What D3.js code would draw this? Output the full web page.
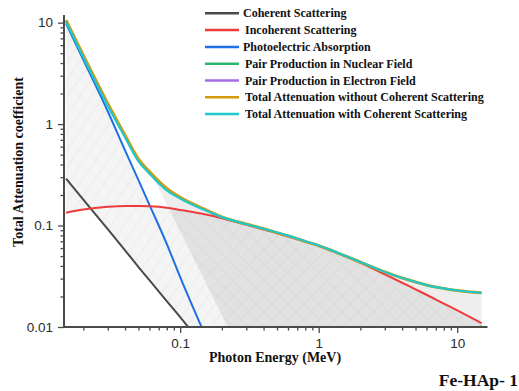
<!DOCTYPE html>
<html>
<head>
<meta charset="utf-8">
<script src="https://cdn.jsdelivr.net/npm/d3@7"></script>
<style>
  html, body { margin: 0; padding: 0; background: #fff; }
  svg { display: block; }
</style>
</head>
<body>
<svg id="chart" width="519" height="391"></svg>
<script>
// Photon energies (MeV)
const energy = [0.015, 0.02, 0.03, 0.04, 0.05, 0.06, 0.08, 0.1, 0.15, 0.2, 0.3, 0.4, 0.5, 0.6, 0.8,
                1, 1.25, 1.5, 2, 3, 4, 5, 6, 8, 10, 15];

// Partial and total attenuation coefficients (cm²/g) for Fe-HAp-1
const coherent = [0.29, 0.18, 0.092, 0.057, 0.039, 0.029, 0.018, 0.0125, 0.0062, 0.0037, 0.0018, 0.00105,
                  0.00068, 0.00048, 0.00027, 0.00017, 0.00011, 0.000077, 0.000044, 0.00002, 0.000011,
                  0.0000072, 0.000005, 0.0000028, 0.0000018, 0.0000008];
const incoherent = [0.134, 0.144, 0.153, 0.156, 0.156, 0.155, 0.150, 0.1425, 0.129, 0.118, 0.1015, 0.0915,
                    0.0841, 0.0781, 0.0693, 0.0628, 0.0562, 0.0508, 0.0428, 0.0330, 0.0273, 0.0235, 0.0208,
                    0.0170, 0.0146, 0.0109];
const photoelectric = [9.78, 4.3, 1.34, 0.55, 0.28, 0.16, 0.066, 0.031, 0.0085, 0.0033, 0.00092, 0.0004,
                       0.00021, 0.00013, 0.000066, 0.00004, 0.000027, 0.00002, 0.000013, 0.0000072,
                       0.0000049, 0.0000037, 0.000003, 0.0000021, 0.0000017, 0.0000011];
const pairNuclear = [null, null, null, null, null, null, null, null, null, null, null, null, null, null, null,
                     null, 0.00002, 0.00012, 0.0006, 0.0019, 0.0031, 0.0042, 0.0051, 0.0067, 0.0080, 0.0102];
const pairElectron = [null, null, null, null, null, null, null, null, null, null, null, null, null, null, null,
                      null, null, null, null, 0.00002, 0.00006, 0.00011, 0.00016, 0.00026, 0.00035, 0.00055];
const totalWithoutCoherent = [10.6, 4.75, 1.6, 0.775, 0.452, 0.34, 0.232, 0.19, 0.145, 0.122, 0.1035, 0.093,
                              0.0852, 0.0792, 0.0698, 0.0634, 0.0565, 0.0512, 0.0437, 0.0349, 0.0304, 0.0278,
                              0.0259, 0.0240, 0.0229, 0.0217];
const totalWithCoherent = [10.2, 4.55, 1.52, 0.74, 0.43, 0.325, 0.222, 0.185, 0.142, 0.121, 0.103, 0.093,
                           0.0855, 0.0795, 0.0700, 0.0636, 0.0566, 0.0513, 0.0437, 0.0349, 0.0304, 0.0278,
                           0.0259, 0.0240, 0.0229, 0.0217];

// Axis ticks
const xMajorTicks = [0.1, 1, 10];
const xTickLabels = ["0.1", "1", "10"];
const yMajorTicks = [0.01, 0.1, 1, 10];
const yTickLabels = ["0.01", "0.1", "1", "10"];

// Boundary between the light and dark shaded bands (energy, coefficient)
const shadeSplit = [[0.063, 0.31], [0.22, 0.01]];

const seriesNames = ["Coherent Scattering", "Incoherent Scattering", "Photoelectric Absorption",
                     "Pair Production in Nuclear Field", "Pair Production in Electron Field",
                     "Total Attenuation without Coherent Scattering", "Total Attenuation with Coherent Scattering"];
const seriesValues = [coherent, incoherent, photoelectric, pairNuclear, pairElectron,
                      totalWithoutCoherent, totalWithCoherent];
const seriesColors = ["#4a4a4a", "#ee3b3b", "#1f6fe5", "#2fb46a", "#a86be6", "#d39a0a", "#1fc8cc"];
const seriesWidths = [2, 2, 2, 2, 2, 3, 2.2];
const legendTextX = [243, 245, 243, 245, 245, 245, 245];

// ---------------------------------------------------------------
const svg = d3.select("#chart");
const plot = { left: 64, right: 487, top: 15, bottom: 327 };

const x = d3.scaleLog().domain([0.0145, 16.4]).range([plot.left, plot.right]);
const y = d3.scaleLog().domain([0.01, 11.9]).range([plot.bottom, plot.top]);

const pts = vals => energy.map((e, i) => ({ e, v: vals[i] }));

const defs = svg.append("defs");

defs.append("clipPath").attr("id", "plotClip")
  .append("rect").attr("x", plot.left).attr("y", plot.top)
  .attr("width", plot.right - plot.left).attr("height", plot.bottom - plot.top);

// Split line extended across the plot height
const s0 = [x(shadeSplit[0][0]), y(shadeSplit[0][1])];
const s1 = [x(shadeSplit[1][0]), y(shadeSplit[1][1])];
const slope = (s1[0] - s0[0]) / (s1[1] - s0[1]);
const xAt = yy => s0[0] + (yy - s0[1]) * slope;
const yT = 0, yB = 391;
defs.append("clipPath").attr("id", "leftOfSplit")
  .append("polygon").attr("points", [[0, yT], [xAt(yT), yT], [xAt(yB), yB], [0, yB]].join(" "));
defs.append("clipPath").attr("id", "rightOfSplit")
  .append("polygon").attr("points", [[xAt(yT), yT], [519, yT], [519, yB], [xAt(yB), yB]].join(" "));

// Hatch patterns
const hatchLight = defs.append("pattern").attr("id", "hatchLight")
  .attr("patternUnits", "userSpaceOnUse").attr("width", 10).attr("height", 10)
  .attr("patternTransform", "rotate(35)");
hatchLight.append("rect").attr("width", 10).attr("height", 10).attr("fill", "#f4f4f4");
hatchLight.append("line").attr("x1", 0).attr("y1", 0).attr("x2", 0).attr("y2", 10)
  .attr("stroke", "#e6e6e6").attr("stroke-width", 1.2);

const hatchDark = defs.append("pattern").attr("id", "hatchDark")
  .attr("patternUnits", "userSpaceOnUse").attr("width", 11).attr("height", 11)
  .attr("patternTransform", "rotate(45)");
hatchDark.append("rect").attr("width", 11).attr("height", 11).attr("fill", "#e2e2e2");
hatchDark.append("line").attr("x1", 0).attr("y1", 0).attr("x2", 0).attr("y2", 11)
  .attr("stroke", "#d5d5d5").attr("stroke-width", 1);
hatchDark.append("line").attr("x1", 0).attr("y1", 0).attr("x2", 11).attr("y2", 0)
  .attr("stroke", "#d5d5d5").attr("stroke-width", 1);

const curve = d3.curveMonotoneX;
const under = d3.area().defined(d => d.v != null)
  .x(d => x(d.e)).y0(yB).y1(d => y(d.v)).curve(curve);

// Clip regions used to build the light band: under coherent ∩ under incoherent is cut out
defs.append("clipPath").attr("id", "underIncoh")
  .append("path").attr("d", under(pts(incoherent)));

const mask = defs.append("mask").attr("id", "bandMask")
  .attr("maskUnits", "userSpaceOnUse").attr("x", 0).attr("y", 0).attr("width", 519).attr("height", 391);
mask.append("path").attr("d", under(pts(photoelectric))).attr("fill", "#fff");
mask.append("path").attr("d", under(pts(incoherent))).attr("fill", "#fff");
mask.append("g").attr("clip-path", "url(#underIncoh)")
  .append("path").attr("d", under(pts(coherent))).attr("fill", "#000");

const shade = svg.append("g").attr("clip-path", "url(#plotClip)");

// Light hatched band between the photoelectric / scattering curves
shade.append("g").attr("clip-path", "url(#leftOfSplit)")
  .append("rect").attr("x", plot.left).attr("y", plot.top)
  .attr("width", plot.right - plot.left).attr("height", plot.bottom - plot.top)
  .attr("fill", "url(#hatchLight)").attr("mask", "url(#bandMask)");

// Grey band between incoherent and total
const between = d3.area()
  .x(d => x(d.e)).y0(d => y(d.lo)).y1(d => y(d.hi)).curve(curve);
shade.append("g").attr("clip-path", "url(#rightOfSplit)")
  .append("path")
  .attr("d", between(energy.map((e, i) => ({ e, lo: incoherent[i], hi: totalWithCoherent[i] }))))
  .attr("fill", "#eeeeee");

// Dark cross-hatched region under the incoherent curve
shade.append("g").attr("clip-path", "url(#rightOfSplit)")
  .append("path")
  .attr("d", d3.area().x(d => x(d.e)).y0(plot.bottom).y1(d => y(d.v)).curve(curve)(pts(incoherent)))
  .attr("fill", "url(#hatchDark)");

// Curves
const line = d3.line().defined(d => d.v != null)
  .x(d => x(d.e)).y(d => y(d.v)).curve(curve);
const lines = svg.append("g").attr("clip-path", "url(#plotClip)");
const drawOrder = [3, 4, 0, 2, 1, 5, 6];
drawOrder.forEach(k => {
  lines.append("path")
    .attr("d", line(pts(seriesValues[k])))
    .attr("fill", "none")
    .attr("stroke", seriesColors[k])
    .attr("stroke-width", seriesWidths[k])
    .attr("stroke-linejoin", "round");
});

// Axes
const axisColor = "#4a4a4a";
const labelFont = "'Liberation Sans', Arial, sans-serif";

function minorTicks(scale) {
  const [d0, d1] = scale.domain();
  const out = [];
  for (let p = -3; p <= 2; p++) {
    for (let m = 2; m <= 9; m++) {
      const v = m * Math.pow(10, p);
      if (v >= d0 && v <= d1) out.push(+v.toPrecision(3));
    }
  }
  return out;
}

const xAxisMajor = d3.axisBottom(x).tickValues(xMajorTicks)
  .tickFormat((d, i) => xTickLabels[i]).tickSize(6).tickPadding(5);
const xAxisMinor = d3.axisBottom(x).tickValues(minorTicks(x)).tickFormat("").tickSize(3.5);
const yAxisMajor = d3.axisLeft(y).tickValues(yMajorTicks)
  .tickFormat((d, i) => yTickLabels[i]).tickSize(6).tickPadding(5);
const yAxisMinor = d3.axisLeft(y).tickValues(minorTicks(y)).tickFormat("").tickSize(3.5);

function styleAxis(g) {
  g.select(".domain").remove();
  g.selectAll(".tick line").attr("stroke", axisColor).attr("stroke-width", 1.3);
  g.selectAll(".tick text").attr("fill", "#2a2a2a")
    .style("font-family", labelFont).style("font-size", "13.5px");
}

svg.append("g").attr("transform", `translate(0,${plot.bottom})`).call(xAxisMinor).call(styleAxis);
svg.append("g").attr("transform", `translate(0,${plot.bottom})`).call(xAxisMajor).call(styleAxis);
svg.append("g").attr("transform", `translate(${plot.left},0)`).call(yAxisMinor).call(styleAxis);
svg.append("g").attr("transform", `translate(${plot.left},0)`).call(yAxisMajor).call(styleAxis);

svg.append("line").attr("x1", plot.left).attr("x2", plot.right + 0.5)
  .attr("y1", plot.bottom).attr("y2", plot.bottom)
  .attr("stroke", axisColor).attr("stroke-width", 2);
svg.append("line").attr("x1", plot.left).attr("x2", plot.left)
  .attr("y1", plot.top).attr("y2", plot.bottom + 1)
  .attr("stroke", axisColor).attr("stroke-width", 2);

// Axis titles
const titleFont = "'Liberation Serif', 'Times New Roman', serif";
svg.append("text").attr("x", 275).attr("y", 362).attr("text-anchor", "middle")
  .style("font-family", titleFont).style("font-weight", "bold").style("font-size", "14px")
  .attr("fill", "#111").text("Photon Energy (MeV)");
svg.append("text").attr("transform", "translate(23,162) rotate(-90)").attr("text-anchor", "middle")
  .style("font-family", titleFont).style("font-weight", "bold").style("font-size", "14px")
  .attr("fill", "#111").text("Total Attenuation coefficient");

svg.append("text").attr("x", 518).attr("y", 386).attr("text-anchor", "end")
  .style("font-family", titleFont).style("font-weight", "bold").style("font-size", "17.5px")
  .attr("fill", "#111").text("Fe-HAp- 1");

// Legend
const legend = svg.append("g");
seriesNames.forEach((name, i) => {
  const cy = 13.3 + i * 16.8;
  legend.append("line").attr("x1", 205).attr("x2", 239).attr("y1", cy).attr("y2", cy)
    .attr("stroke", seriesColors[i]).attr("stroke-width", 2.5);
  legend.append("text").attr("x", legendTextX[i]).attr("y", cy + 4)
    .style("font-family", titleFont).style("font-weight", "bold").style("font-size", "12px")
    .attr("fill", "#111").text(name);
});
</script>
</body>
</html>
